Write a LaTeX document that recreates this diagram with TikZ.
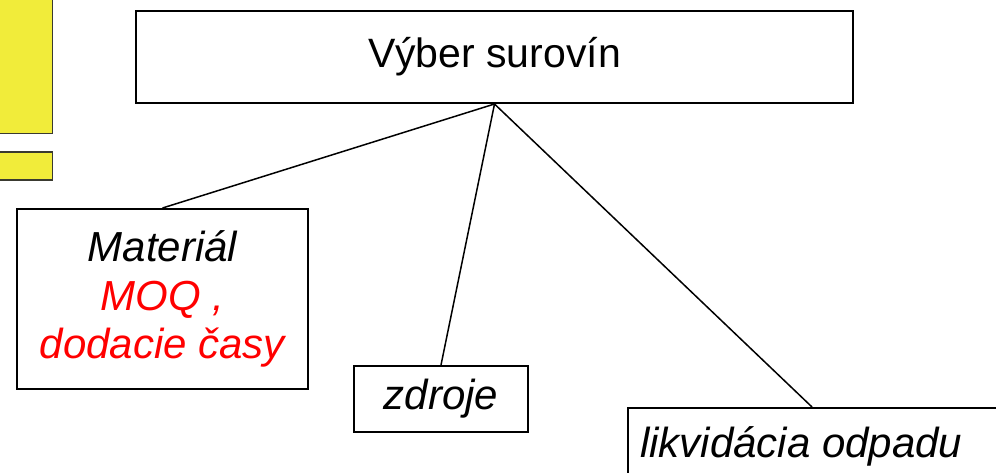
\documentclass[tikz,border=0pt]{standalone}
\usepackage{fontspec}
\setmainfont{Liberation Sans}
\definecolor{marker}{HTML}{F1EC3A}
\definecolor{markeredge}{HTML}{3A3A30}
\begin{document}
\begin{tikzpicture}[x=1pt,y=-1pt,
  box/.style={draw=black, line width=2pt, fill=white, inner sep=0pt},
  label/.style={font=\fontsize{41}{48}\selectfont},
  ilabel/.style={font=\fontsize{42}{48.5}\selectfont\itshape, align=center},
  link/.style={line width=1.5pt},
  tab/.style={draw=markeredge, line width=1.5pt, fill=marker}]
\useasboundingbox (0,0) rectangle (996,472);
\clip (0,0) rectangle (996,472);

% yellow side tabs
\node[tab, anchor=south east, minimum width=60, minimum height=145] (tabA) at (53,134) {};
\node[tab, anchor=north east, minimum width=60, minimum height=28] (tabB) at (53,151) {};

% boxes
\node[box, label, minimum width=717, minimum height=92] (root) at (494.5,57) {Výber surovín};
\node[box, ilabel, minimum width=291, minimum height=180] (mat) at (162.5,299)
  {Materiál\\\textcolor{red}{MOQ ,}\\\textcolor{red}{dodacie časy}};
\node[box, ilabel, minimum width=174, minimum height=66] (src) at (441,399) {zdroje};
\node[box, anchor=north west, minimum width=420, minimum height=110] (waste) at (627,407) {};
\node[ilabel, anchor=base west, inner sep=0pt] (wastetext) at (640,457) {likvidácia odpadu};
\coordinate (wastetop) at (812,407);

% connectors
\draw[link] (root.south) -- (mat.north);
\draw[link] (root.south) -- (src.north);
\draw[link] (root.south) -- (wastetop);
\end{tikzpicture}
\end{document}
